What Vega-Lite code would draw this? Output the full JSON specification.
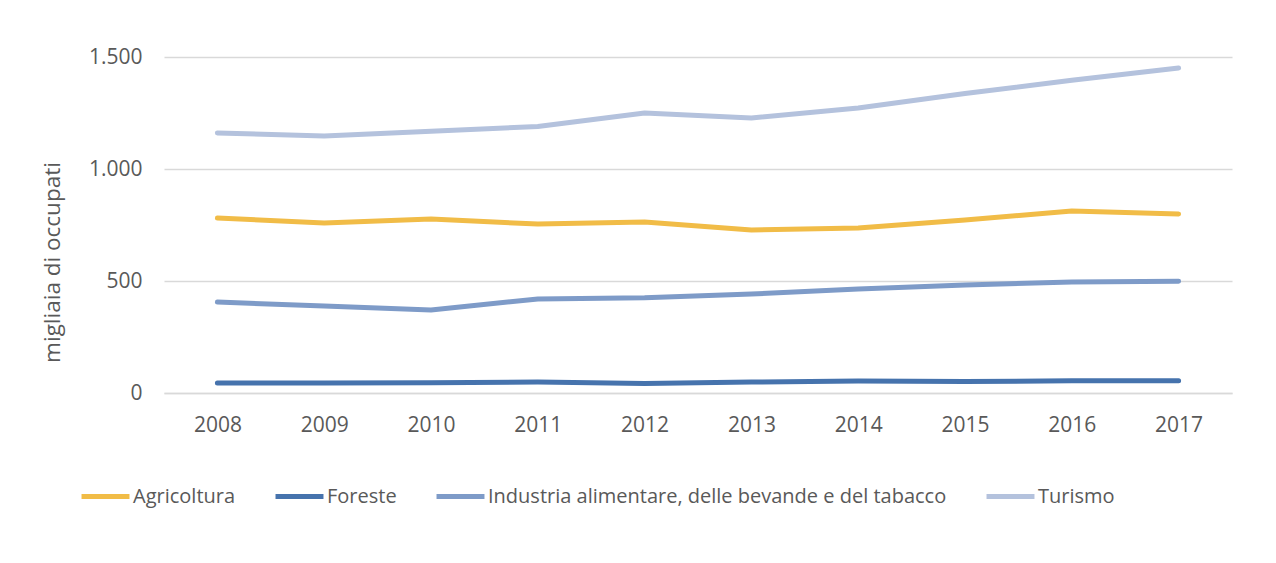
{
  "$schema": "https://vega.github.io/schema/vega-lite/v6.json",
  "width": 1068,
  "height": 336,
  "autosize": {"type": "none"},
  "padding": {"left": 164, "top": 57, "right": 44, "bottom": 170},
  "background": "white",
  "config": {
    "font": "Open Sans",
    "view": {"stroke": null},
    "axis": {"labelColor": "#595959", "titleColor": "#595959", "labelFont": "Open Sans", "titleFont": "Open Sans"}
  },
  "data": {
    "values": [
      {"anno": "2008", "settore": "Agricoltura", "valore": 781},
      {"anno": "2009", "settore": "Agricoltura", "valore": 759},
      {"anno": "2010", "settore": "Agricoltura", "valore": 777},
      {"anno": "2011", "settore": "Agricoltura", "valore": 754},
      {"anno": "2012", "settore": "Agricoltura", "valore": 763},
      {"anno": "2013", "settore": "Agricoltura", "valore": 728},
      {"anno": "2014", "settore": "Agricoltura", "valore": 737},
      {"anno": "2015", "settore": "Agricoltura", "valore": 772},
      {"anno": "2016", "settore": "Agricoltura", "valore": 813},
      {"anno": "2017", "settore": "Agricoltura", "valore": 799},
      {"anno": "2008", "settore": "Foreste", "valore": 45},
      {"anno": "2009", "settore": "Foreste", "valore": 45},
      {"anno": "2010", "settore": "Foreste", "valore": 46},
      {"anno": "2011", "settore": "Foreste", "valore": 49},
      {"anno": "2012", "settore": "Foreste", "valore": 42},
      {"anno": "2013", "settore": "Foreste", "valore": 49},
      {"anno": "2014", "settore": "Foreste", "valore": 54},
      {"anno": "2015", "settore": "Foreste", "valore": 51},
      {"anno": "2016", "settore": "Foreste", "valore": 55},
      {"anno": "2017", "settore": "Foreste", "valore": 55},
      {"anno": "2008", "settore": "Industria alimentare, delle bevande e del tabacco", "valore": 406},
      {"anno": "2009", "settore": "Industria alimentare, delle bevande e del tabacco", "valore": 388},
      {"anno": "2010", "settore": "Industria alimentare, delle bevande e del tabacco", "valore": 371},
      {"anno": "2011", "settore": "Industria alimentare, delle bevande e del tabacco", "valore": 420},
      {"anno": "2012", "settore": "Industria alimentare, delle bevande e del tabacco", "valore": 425},
      {"anno": "2013", "settore": "Industria alimentare, delle bevande e del tabacco", "valore": 442},
      {"anno": "2014", "settore": "Industria alimentare, delle bevande e del tabacco", "valore": 464},
      {"anno": "2015", "settore": "Industria alimentare, delle bevande e del tabacco", "valore": 482},
      {"anno": "2016", "settore": "Industria alimentare, delle bevande e del tabacco", "valore": 496},
      {"anno": "2017", "settore": "Industria alimentare, delle bevande e del tabacco", "valore": 499},
      {"anno": "2008", "settore": "Turismo", "valore": 1161},
      {"anno": "2009", "settore": "Turismo", "valore": 1147},
      {"anno": "2010", "settore": "Turismo", "valore": 1168},
      {"anno": "2011", "settore": "Turismo", "valore": 1190},
      {"anno": "2012", "settore": "Turismo", "valore": 1250},
      {"anno": "2013", "settore": "Turismo", "valore": 1228},
      {"anno": "2014", "settore": "Turismo", "valore": 1272},
      {"anno": "2015", "settore": "Turismo", "valore": 1337},
      {"anno": "2016", "settore": "Turismo", "valore": 1396},
      {"anno": "2017", "settore": "Turismo", "valore": 1451}
    ]
  },
  "mark": {"type": "line", "strokeWidth": 5, "strokeCap": "round", "strokeJoin": "round"},
  "encoding": {
    "x": {
      "field": "anno",
      "type": "ordinal",
      "scale": {"type": "point", "padding": 0.5},
      "axis": {
        "title": null,
        "labelAngle": 0,
        "labelFontSize": 21,
        "labelPadding": 21,
        "ticks": false,
        "domain": true,
        "domainColor": "#D9D9D9",
        "domainWidth": 1.5,
        "grid": false
      }
    },
    "y": {
      "field": "valore",
      "type": "quantitative",
      "scale": {"domain": [0, 1500], "nice": false},
      "axis": {
        "title": "migliaia di occupati",
        "titleFontSize": 22.5,
        "titleFontWeight": "normal",
        "titleX": -112,
        "titleY": 205,
        "titleAngle": -90,
        "titleAlign": "center",
        "titleBaseline": "middle",
        "values": [0, 500, 1000, 1500],
        "labelExpr": "replace(format(datum.value, ','), ',', '.')",
        "labelFontSize": 21,
        "labelPadding": 22,
        "ticks": false,
        "domain": false,
        "grid": true,
        "gridColor": "#D9D9D9",
        "gridWidth": 1.5
      }
    },
    "color": {
      "field": "settore",
      "type": "nominal",
      "scale": {
        "domain": ["Agricoltura", "Foreste", "Industria alimentare, delle bevande e del tabacco", "Turismo"],
        "range": ["#F1BC47", "#4673AD", "#7E9BC8", "#B4C2DD"]
      },
      "legend": {
        "title": null,
        "orient": "none",
        "legendX": -85,
        "legendY": 413,
        "direction": "horizontal",
        "columns": 4,
        "gridAlign": "none",
        "columnPadding": 29,
        "symbolType": "stroke",
        "symbolSize": 2300,
        "symbolStrokeWidth": 5,
        "labelFontSize": 20,
        "labelColor": "#595959",
        "labelFont": "Open Sans",
        "labelOffset": 1,
        "labelLimit": 600
      }
    }
  }
}
